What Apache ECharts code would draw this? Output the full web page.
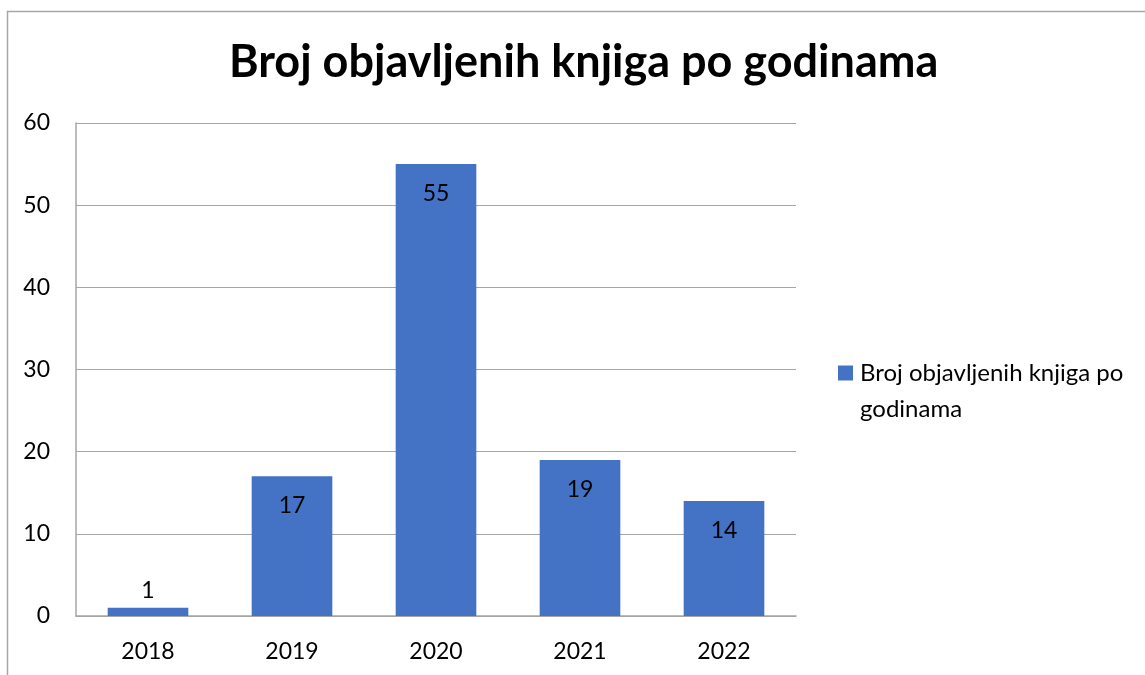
<!DOCTYPE html>
<html>
<head>
<meta charset="utf-8">
<script src="https://cdn.jsdelivr.net/npm/echarts@6/dist/echarts.min.js"></script>
<style>
  html, body { margin: 0; padding: 0; background: #fff; }
  #chart { width: 1145px; height: 675px; }
</style>
</head>
<body>
<div id="chart"></div>
<script>
// podaci
const years = ['2018', '2019', '2020', '2021', '2022'];
const books = [1, 17, 55, 19, 14];
const yTicks = [0, 10, 20, 30, 40, 50, 60];
const seriesName = 'Broj objavljenih knjiga po godinama';

const font = 'Lato, "Open Sans", sans-serif';

let chart = echarts.init(document.getElementById('chart'));

let option = {
  animation: false,
  backgroundColor: '#fff',
  title: {
    text: seriesName,
    left: 224,
    top: 35,
    textStyle: { fontFamily: font, fontSize: 45, fontWeight: 'bold', color: '#000' }
  },
  legend: {
    left: 838,
    top: 319,
    padding: 0,
    orient: 'vertical',
    itemWidth: 15,
    itemHeight: 15,
    icon: 'rect',
    // prazan prvi red da bi kvadratić stajao uz prvi red teksta
    formatter: () => '\nBroj objavljenih knjiga po\ngodinama',
    textStyle: {
      fontFamily: font, fontSize: 24, color: '#000',
      lineHeight: 36, padding: [0, 0, 0, 2]
    }
  },
  graphic: [{
    type: 'rect',
    shape: { x: 7.5, y: 11.5, width: 1200, height: 700 },
    style: { fill: 'none', stroke: '#a6a6a6', lineWidth: 1.5 },
    silent: true
  }],
  grid: { left: 76, right: 349, top: 123, bottom: 59 },
  xAxis: {
    type: 'category',
    data: years,
    axisLine: { lineStyle: { color: '#a6a6a6', width: 1.5 } },
    axisTick: { show: false },
    axisLabel: { margin: 24, fontFamily: font, fontSize: 23, color: '#000' }
  },
  yAxis: {
    type: 'value',
    min: yTicks[0],
    max: yTicks[yTicks.length - 1],
    interval: 10,
    axisLine: { show: true, lineStyle: { color: '#a6a6a6', width: 1.5 } },
    axisTick: { show: false },
    splitLine: { lineStyle: { color: '#a6a6a6', width: 1 } },
    axisLabel: { margin: 26, fontFamily: font, fontSize: 23, color: '#000' }
  },
  series: [{
    name: seriesName,
    type: 'bar',
    barWidth: '56%',
    itemStyle: { color: '#4472c4' },
    label: {
      show: true,
      position: 'insideTop',
      distance: 18,
      fontFamily: font, fontSize: 23, color: '#000'
    },
    data: books.map(v => v < 5
      ? { value: v, label: { position: 'top', distance: 6 } }
      : v)
  }]
};

chart.setOption(option);
</script>
</body>
</html>
